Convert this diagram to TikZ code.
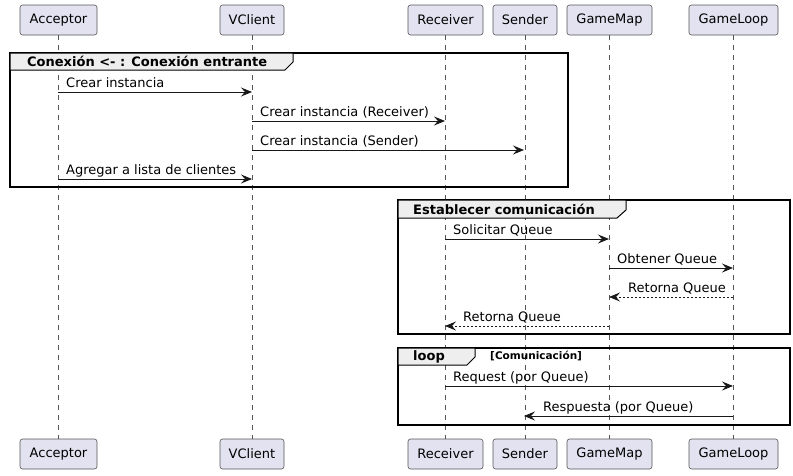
\documentclass[tikz,border=0pt]{standalone}
\usepackage{fontspec}
\setmainfont{DejaVu Sans}
\usetikzlibrary{arrows.meta}
\definecolor{partfill}{HTML}{E2E2F0}
\definecolor{ink}{HTML}{181818}
\definecolor{lifeink}{HTML}{555555}
\definecolor{tabfill}{HTML}{EEEEEE}
\begin{document}
\begin{tikzpicture}[x=1pt,y=-1pt,
  part/.style={draw=lifeink,line width=0.6pt,fill=partfill,rounded corners=2.5pt,minimum height=30pt,inner xsep=6pt,font=\fontsize{13}{15}\selectfont},
  lifeline/.style={draw=lifeink,line width=0.5pt,dash pattern=on 5pt off 5pt},
  msg/.style={draw=ink,line width=1pt,-{Stealth[length=11pt,width=9pt,inset=4pt]}},
  ret/.style={msg,dash pattern=on 2pt off 2pt},
  lbl/.style={anchor=base west,inner sep=0pt,font=\fontsize{13}{15}\selectfont},
  frame/.style={draw=black,line width=1.5pt},
  tab/.style={draw=black,line width=1pt,fill=tabfill},
  tabtext/.style={anchor=west,inner sep=0pt,font=\fontsize{13}{15}\selectfont\bfseries},
]
\useasboundingbox (0,0) rectangle (793,475);
% participants top
\node[part,minimum width=77pt] (accT) at (58.5,20) {Acceptor};
\node[part,minimum width=64pt] (vclT) at (252,20) {VClient};
\node[part,minimum width=75pt] (recT) at (445.5,20) {Receiver};
\node[part,minimum width=64pt] (senT) at (525,20) {Sender};
\node[part,minimum width=85pt] (gmT) at (609.5,20) {GameMap};
\node[part,minimum width=89pt] (glT) at (733.5,20) {GameLoop};
% participants bottom
\node[part,minimum width=77pt] (accB) at (58.5,454) {Acceptor};
\node[part,minimum width=64pt] (vclB) at (252,454) {VClient};
\node[part,minimum width=75pt] (recB) at (445.5,454) {Receiver};
\node[part,minimum width=64pt] (senB) at (525,454) {Sender};
\node[part,minimum width=85pt] (gmB) at (609.5,454) {GameMap};
\node[part,minimum width=89pt] (glB) at (733.5,454) {GameLoop};
% lifelines
\coordinate (acc) at (58,0);
\coordinate (vcl) at (252,0);
\coordinate (rec) at (445,0);
\coordinate (sen) at (524,0);
\coordinate (gm) at (609,0);
\coordinate (gl) at (733,0);
\foreach \a/\b in {accT/accB,vclT/vclB,recT/recB,senT/senB,gmT/gmB,glT/glB}
  \draw[lifeline] (\a.south) -- (\b.north);
% group 1
\draw[frame] (10,53) rectangle (568,187);
\draw[tab] (10,53) -- (293,53) -- (293,62) -- (285,70) -- (10,70) -- cycle;
\node[tabtext] (g1t) at (27,61.5) {Conexión <- : Conexión entrante};
\draw[msg] (acc |- 0,92) -- (vcl |- 0,92);
\node[lbl] (l1) at (66,87) {Crear instancia};
\draw[msg] (vcl |- 0,121) -- (rec |- 0,121);
\node[lbl] (l2) at (260,116) {Crear instancia (Receiver)};
\draw[msg] (vcl |- 0,150) -- (sen |- 0,150);
\node[lbl] (l3) at (260,145) {Crear instancia (Sender)};
\draw[msg] (acc |- 0,179) -- (vcl |- 0,179);
\node[lbl] (l4) at (66,174) {Agregar a lista de clientes};
% group 2
\draw[frame] (398,200) rectangle (790,334);
\draw[tab] (398,200) -- (626,200) -- (626,210) -- (617,218) -- (398,218) -- cycle;
\node[tabtext] (g2t) at (413,209) {Establecer comunicación};
\draw[msg] (rec |- 0,239) -- (gm |- 0,239);
\node[lbl] (l5) at (453,234) {Solicitar Queue};
\draw[msg] (gm |- 0,268) -- (gl |- 0,268);
\node[lbl] (l6) at (617,263) {Obtener Queue};
\draw[ret] (gl |- 0,297) -- (gm |- 0,297);
\node[lbl] (l7) at (628,292) {Retorna Queue};
\draw[ret] (gm |- 0,326) -- (rec |- 0,326);
\node[lbl] (l8) at (463,321) {Retorna Queue};
% group 3
\draw[frame] (398,348) rectangle (790,425);
\draw[tab] (398,348) -- (475,348) -- (475,357) -- (467,365) -- (398,365) -- cycle;
\node[tabtext] (g3t) at (413,357) {loop};
\node[anchor=west,inner sep=0pt,font=\fontsize{10.5}{12}\selectfont\bfseries] (g3c) at (490,356) {[Comunicación]};
\draw[msg] (rec |- 0,386) -- (gl |- 0,386);
\node[lbl] (l9) at (453,381) {Request (por Queue)};
\draw[msg] (gl |- 0,416) -- (sen |- 0,416);
\node[lbl] (l10) at (543,411) {Respuesta (por Queue)};
\end{tikzpicture}
\end{document}
